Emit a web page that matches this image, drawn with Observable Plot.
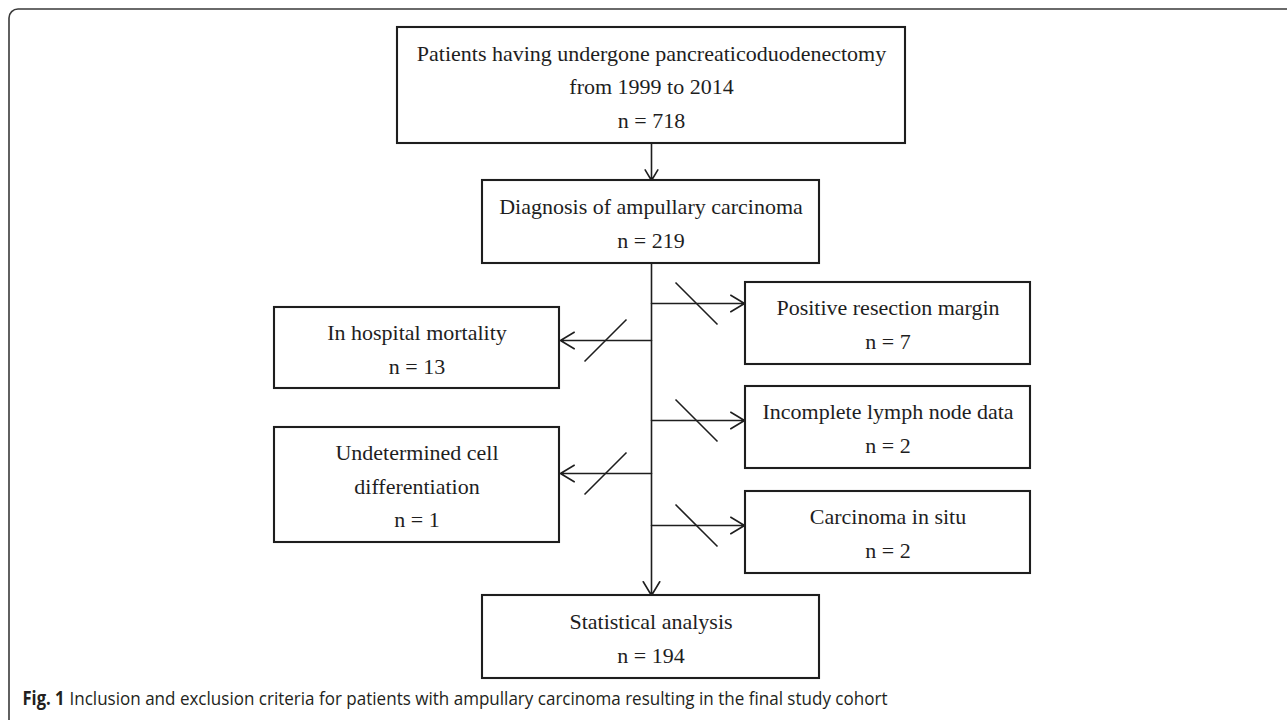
<!DOCTYPE html>
<html>
<head>
<meta charset="utf-8">
<script src="https://cdn.jsdelivr.net/npm/d3@7"></script>
<script src="https://cdn.jsdelivr.net/npm/@observablehq/plot@0.6"></script>
<style>
  html, body { margin: 0; padding: 0; background: #fff; }
  #chart svg { display: block; }
</style>
</head>
<body>
<div id="chart"></div>
<script>
// ---------------- DATA ----------------
const stageLabels = [
  "Patients having undergone pancreaticoduodenectomy\nfrom 1999 to 2014",
  "Diagnosis of ampullary carcinoma",
  "Statistical analysis"
];
const stageCounts = [718, 219, 194];

const exclusionLabels = [
  "Positive resection margin",
  "In hospital mortality",
  "Incomplete lymph node data",
  "Undetermined cell\ndifferentiation",
  "Carcinoma in situ"
];
const exclusionCounts = [7, 13, 2, 1, 2];
const exclusionSides = ["right", "left", "right", "left", "right"];

const captionLead = "Fig. 1";
const captionText = "Inclusion and exclusion criteria for patients with ampullary carcinoma resulting in the final study cohort";

// ---------------- LAYOUT (pixel space of the diagram) ----------------
const W = 1287, H = 720;
const trunkX = 651;
const stageX1 = [397, 482, 482];
const stageX2 = [905, 819, 819];
const stageY1 = [27, 180, 595];
const stageY2 = [143, 263, 678];
const sideX1 = {left: 274, right: 745};
const sideX2 = {left: 559, right: 1030};
const exclY1 = [282, 307, 386, 427, 491];
const exclY2 = [364, 388, 468, 542, 573];
const branchY = [303, 340, 420, 473, 525];
const slashHalf = 21;
const ink = "#1e1e1e";

// ---------------- TABLES ----------------
const stages = stageLabels.map((label, i) => ({
  text: `${label}\nn = ${stageCounts[i]}`,
  x1: stageX1[i], x2: stageX2[i], y1: stageY1[i], y2: stageY2[i]
}));
const exclusions = exclusionLabels.map((label, i) => {
  const side = exclusionSides[i];
  return {
    text: `${label}\nn = ${exclusionCounts[i]}`,
    side,
    x1: sideX1[side], x2: sideX2[side], y1: exclY1[i], y2: exclY2[i],
    by: branchY[i]
  };
});
const boxes = [...stages, ...exclusions];

// arrows
const mainArrows = [
  {x1: trunkX, y1: stageY2[0], x2: trunkX, y2: stageY1[1]},
  {x1: trunkX, y1: stageY2[1], x2: trunkX, y2: stageY1[2]}
];
const branchArrows = exclusions.map(d => ({
  x1: trunkX,
  y1: d.by,
  x2: d.side === "right" ? d.x1 - 1 : d.x2 + 1,
  y2: d.by
}));
const slashes = exclusions.map(d => {
  const cx = d.side === "right" ? (trunkX + d.x1) / 2 - 2 : (trunkX + d.x2) / 2 + 0;
  const s = d.side === "right" ? 1 : -1;
  return {x1: cx - slashHalf, y1: d.by - s * slashHalf, x2: cx + slashHalf, y2: d.by + s * slashHalf};
});

const chart = Plot.plot({
  width: W,
  height: H,
  margin: 0,
  x: {domain: [0, W], range: [0, W], axis: null},
  y: {domain: [0, H], range: [0, H], axis: null},
  style: {background: "#fff"},
  marks: [
    // outer frame (open to the right and bottom)
    Plot.rect([{x1: 9, x2: W + 40, y1: 9, y2: H + 40}], {
      x1: "x1", x2: "x2", y1: "y1", y2: "y2",
      rx: 9, fill: "none", stroke: "#3a3a3a", strokeWidth: 1.6, clip: true
    }),
    Plot.arrow(mainArrows, {
      x1: "x1", y1: "y1", x2: "x2", y2: "y2",
      stroke: ink, strokeWidth: 1.6, headLength: 15, headAngle: 62
    }),
    Plot.arrow(branchArrows, {
      x1: "x1", y1: "y1", x2: "x2", y2: "y2",
      stroke: ink, strokeWidth: 1.6, headLength: 15, headAngle: 62
    }),
    Plot.link(slashes, {
      x1: "x1", y1: "y1", x2: "x2", y2: "y2",
      stroke: ink, strokeWidth: 1.6
    }),
    Plot.rect(boxes, {
      x1: "x1", x2: "x2", y1: "y1", y2: "y2",
      fill: "#fff", stroke: ink, strokeWidth: 2.1
    }),
    Plot.text(boxes, {
      x: d => (d.x1 + d.x2) / 2,
      y: d => (d.y1 + d.y2) / 2 - 2,
      text: "text",
      fontFamily: "'Liberation Serif', 'Times New Roman', serif",
      fontSize: 22,
      lineHeight: 1.53,
      fill: ink
    }),
    Plot.text([captionLead], {
      x: 22, y: 698, text: d => d, textAnchor: "start",
      fontFamily: "'Open Sans', sans-serif",
      fontWeight: "bold", fontSize: 19, fill: "#231f20"
    }),
    Plot.text([captionText], {
      x: 69, y: 698, text: d => d, textAnchor: "start",
      fontFamily: "'Open Sans', sans-serif",
      fontSize: 19, fill: "#231f20"
    })
  ]
});
document.getElementById("chart").append(chart);

// fit caption pieces to the reference widths (condensed face look)
const textGroups = d3.select(chart).selectAll('g[aria-label="text"]').nodes();
const capLeadG = textGroups[textGroups.length - 2];
const capTextG = textGroups[textGroups.length - 1];
d3.select(capLeadG).selectAll("text").attr("textLength", 42).attr("lengthAdjust", "spacingAndGlyphs");
d3.select(capTextG).selectAll("text").attr("textLength", 818).attr("lengthAdjust", "spacingAndGlyphs");
</script>
</body>
</html>
